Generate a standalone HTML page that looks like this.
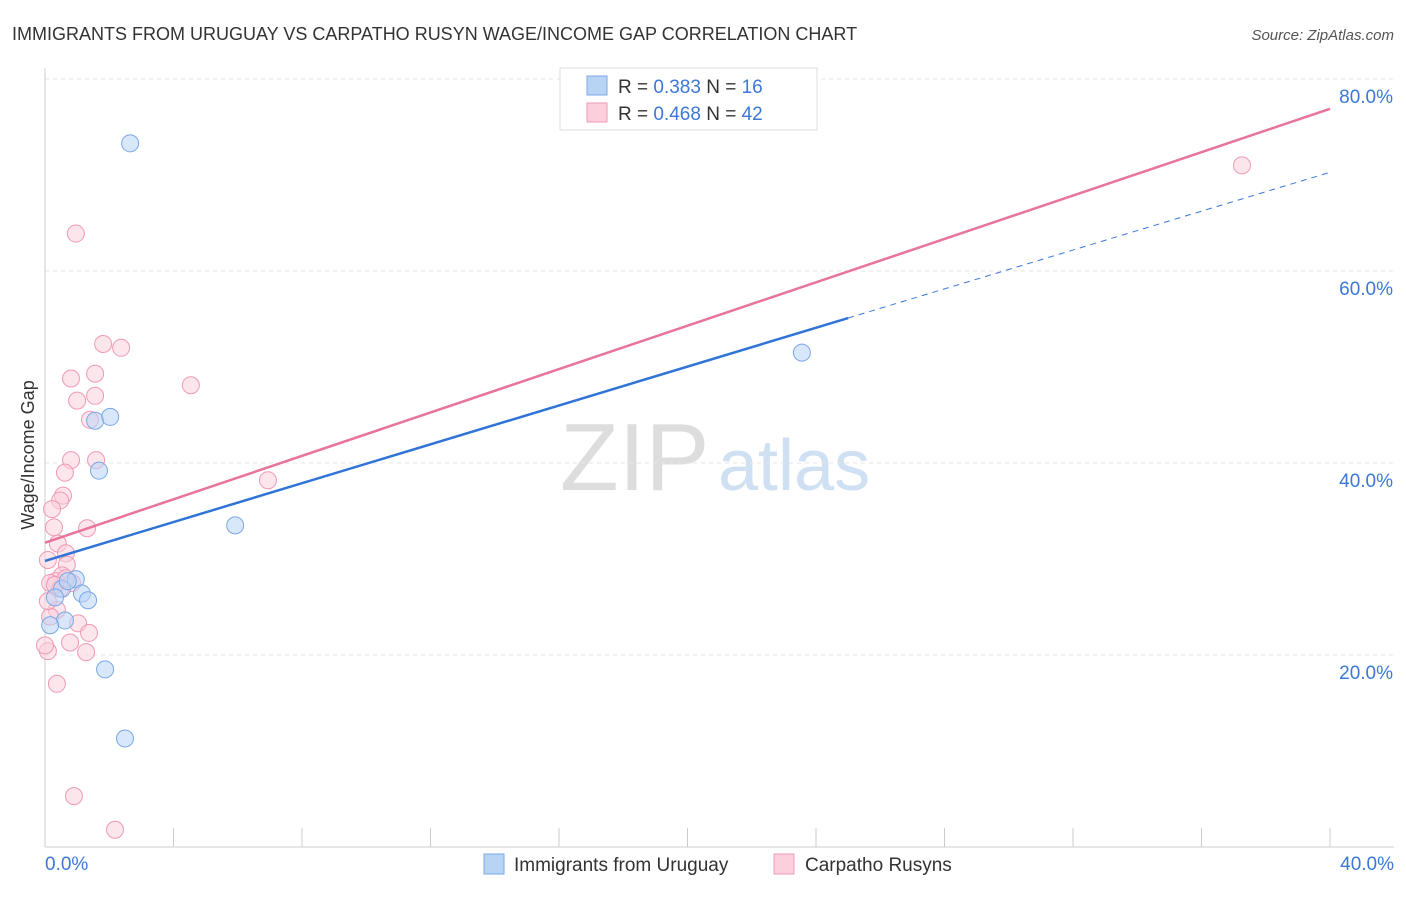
<!DOCTYPE html>
<html><head><meta charset="utf-8"><style>
body{margin:0;background:#fff;font-family:"Liberation Sans",sans-serif;}
svg text{font-family:"Liberation Sans",sans-serif;}
</style></head><body>
<svg id="c" width="1406" height="892">
<text x="12" y="40" font-size="18" fill="#333">IMMIGRANTS FROM URUGUAY VS CARPATHO RUSYN WAGE/INCOME GAP CORRELATION CHART</text>
<text x="1394" y="40" font-size="15" fill="#555" font-style="italic" text-anchor="end">Source: ZipAtlas.com</text>
<text x="560" y="490" font-size="96" fill="#ddd" font-family="Liberation Serif">ZIP</text>
<text x="718" y="490" font-size="72" fill="#cfe0f3">atlas</text>
<text transform="translate(34,455) rotate(-90)" font-size="18" fill="#333" text-anchor="middle">Wage/Income Gap</text>
<g id="axes"></g><g id="marks"></g>
<g>
<rect x="560" y="68" width="257" height="62" fill="#fff" stroke="#ddd"/>
<rect x="587" y="76" width="20" height="19" fill="#b9d3f5" stroke="#7aa8e6"/>
<text x="618" y="93" font-size="19" fill="#333">R = <tspan fill="#3b78d8">0.383</tspan>   N = <tspan fill="#3b78d8">16</tspan></text>
<rect x="587" y="103" width="20" height="19" fill="#fbcfdc" stroke="#ef9ab4"/>
<text x="618" y="120" font-size="19" fill="#333">R = <tspan fill="#3b78d8">0.468</tspan>   N = <tspan fill="#3b78d8">42</tspan></text>
</g>
<g>
<rect x="484" y="854" width="20" height="20" fill="#b9d3f5" stroke="#7aa8e6"/>
<text x="514" y="871" font-size="19" fill="#333">Immigrants from Uruguay</text>
<rect x="774" y="854" width="20" height="20" fill="#fbcfdc" stroke="#ef9ab4"/>
<text x="805" y="871" font-size="19" fill="#333">Carpatho Rusyns</text>
</g>
</svg>
<script>
const yTicks=[20,40,60,80];
const xTickLabels=["0.0%","40.0%"];
const blueX=[2.65,1.56,2.03,1.68,5.92,0.96,0.53,1.15,1.34,0.71,0.31,0.62,0.16,1.87,2.49,23.56];
const blueY=[73.3,44.4,44.8,39.2,33.5,27.9,26.9,26.4,25.7,27.7,26.0,23.6,23.1,18.5,11.3,51.5];
const pinkX=[0.96,1.81,2.37,0.81,1.56,4.54,1.0,1.56,1.40,0.81,1.59,0.62,6.94,0.56,0.47,0.22,0.28,1.31,0.40,0.65,0.09,0.68,0.53,0.34,0.84,0.16,0.37,1.03,1.37,0.78,1.28,0.09,0.37,0.90,2.18,37.26,0.16,0.65,0.0,0.47,0.09,0.31];
const pinkY=[63.9,52.4,52.0,48.8,49.3,48.1,46.5,47.0,44.5,40.3,40.3,39.0,38.2,36.6,36.1,35.2,33.3,33.2,31.6,30.6,29.9,29.4,28.3,27.7,27.5,27.5,24.7,23.3,22.3,21.3,20.3,20.4,17.0,5.3,1.8,71.0,24.0,28.0,21.0,26.9,25.6,27.3];
const blueLine=[0,29.8,25,55.1];const pinkLine=[0,31.7,40,76.9];
const X=v=>45+v/40*1285, Y=v=>847-v/20*192;
const ns="http://www.w3.org/2000/svg";
const ax=document.getElementById('axes'),mk=document.getElementById('marks');
function el(t,a,p){const e=document.createElementNS(ns,t);for(const k in a)e.setAttribute(k,a[k]);p.appendChild(e);return e;}
for(const t of yTicks){
 const g=el('line',{x1:45,x2:1394,y1:Y(t),y2:Y(t),stroke:'#e6e6e6','stroke-dasharray':'4,4'},ax);
 
 
 const tx=el('text',{x:1393,y:Y(t)+24,'font-size':19,fill:'#3b78d8','text-anchor':'end'},ax);tx.textContent=t.toFixed(1)+'%';
 
 
}
const a1=el('line',{x1:45,x2:45,y1:68,y2:847,stroke:'#ccc'},ax);


const a2=el('line',{x1:45,x2:1394,y1:847,y2:847,stroke:'#ccc'},ax);


for(let i=1;i<=10;i++){const t=el('line',{x1:X(i*4),x2:X(i*4),y1:828,y2:847,stroke:'#ccc'},ax);
 
 }
[[0,'start',45],[40,'end',1394]].forEach((d,i)=>{const t=el('text',{x:d[2],y:870,'font-size':19,fill:'#3b78d8','text-anchor':d[1]},ax);t.textContent=xTickLabels[i];
 
 });
function dots(xs,ys,fill,stroke,name){xs.forEach((x,i)=>{const c=el('circle',{cx:X(x),cy:Y(ys[i]),r:8.5,fill:fill,'fill-opacity':0.55,stroke:stroke,'stroke-width':1},mk);
 
 });}
dots(pinkX,pinkY,'#fbcfdc','#ef9ab4','carpatho-point');
dots(blueX,blueY,'#b9d3f5','#7aa8e6','uruguay-point');
const bEnd=blueLine[1]+(blueLine[3]-blueLine[1])*(40/blueLine[2]);
const bd=el('line',{x1:X(blueLine[2]),y1:Y(blueLine[3]),x2:X(40),y2:Y(bEnd),stroke:'#3b78d8','stroke-width':1,'stroke-dasharray':'6,5'},mk);


const bl=el('line',{x1:X(blueLine[0]),y1:Y(blueLine[1]),x2:X(blueLine[2]),y2:Y(blueLine[3]),stroke:'#2f74d6','stroke-width':2.5},mk);


const pl=el('line',{x1:X(pinkLine[0]),y1:Y(pinkLine[1]),x2:X(pinkLine[2]),y2:Y(pinkLine[3]),stroke:'#e8739b','stroke-width':2.5},mk);


</script>
</body></html>
